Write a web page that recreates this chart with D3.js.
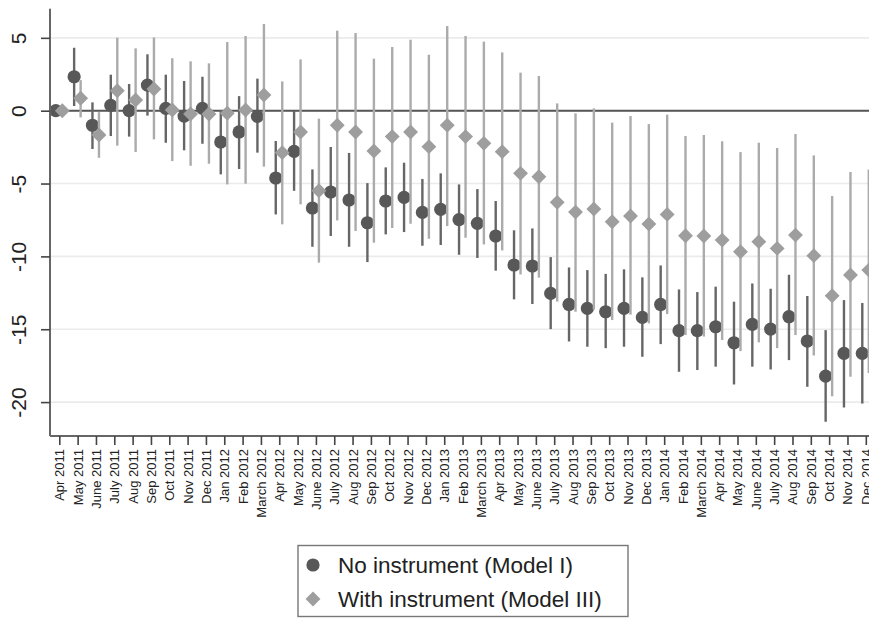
<!DOCTYPE html>
<html>
<head>
<meta charset="utf-8">
<script src="https://cdn.jsdelivr.net/npm/d3@7/dist/d3.min.js"></script>
<style>
  html, body { margin: 0; padding: 0; background: #fff; }
  svg { display: block; font-family: "Liberation Sans", Arial, sans-serif; }
</style>
</head>
<body>
<svg id="chart" width="869" height="621"></svg>
<script>
// Monthly event-study coefficients with 95% confidence intervals
const months = ["Apr 2011","May 2011","June 2011","July 2011","Aug 2011","Sep 2011","Oct 2011","Nov 2011","Dec 2011",
  "Jan 2012","Feb 2012","March 2012","Apr 2012","May 2012","June 2012","July 2012","Aug 2012","Sep 2012","Oct 2012","Nov 2012","Dec 2012",
  "Jan 2013","Feb 2013","March 2013","Apr 2013","May 2013","June 2013","July 2013","Aug 2013","Sep 2013","Oct 2013","Nov 2013","Dec 2013",
  "Jan 2014","Feb 2014","March 2014","Apr 2014","May 2014","June 2014","July 2014","Aug 2014","Sep 2014","Oct 2014","Nov 2014","Dec 2014"];

// No instrument (Model I)
const coefModel1 = [0, 2.33, -1.0, 0.37, 0.0, 1.76, 0.16, -0.37, 0.16, -2.15, -1.46, -0.39, -4.62, -2.79, -6.68,
  -5.58, -6.13, -7.69, -6.2, -5.95, -6.98, -6.77, -7.48, -7.73, -8.6, -10.59, -10.66, -12.54, -13.3, -13.57,
  -13.8, -13.57, -14.19, -13.3, -15.1, -15.1, -14.83, -15.93, -14.67, -14.99, -14.14, -15.81, -18.22, -16.66, -16.66];
const lowModel1 = [null, 0.32, -2.63, -1.74, -1.78, -0.34, -2.2, -2.72, -2.27, -4.37, -4.0, -2.88, -7.12, -5.5, -9.34,
  -8.6, -9.34, -10.39, -8.49, -8.33, -9.27, -9.22, -9.89, -10.11, -10.98, -12.95, -13.27, -14.99, -15.84, -16.2,
  -16.3, -16.2, -16.89, -16.02, -17.92, -17.8, -17.57, -18.79, -17.57, -17.76, -17.12, -18.95, -21.35, -20.37, -20.1];
const highModel1 = [null, 4.32, 0.57, 2.47, 1.83, 3.87, 2.47, 2.04, 2.33, 0.05, 1.0, 2.2, -2.08, 0.0, -4.03,
  -2.49, -2.9, -4.97, -3.89, -3.57, -4.69, -4.3, -5.06, -5.38, -6.2, -8.21, -8.08, -10.05, -10.76, -10.94,
  -11.2, -10.89, -11.44, -10.62, -12.27, -12.45, -12.08, -13.11, -11.86, -12.22, -11.26, -12.72, -15.06, -13.0, -13.2];

// With instrument (Model III)
const coefModel3 = [0, 0.85, -1.67, 1.37, 0.73, 1.49, 0.05, -0.23, -0.23, -0.18, 0.05, 1.08, -2.88, -1.46, -5.49,
  -1.0, -1.46, -2.77, -1.78, -1.46, -2.47, -1.0, -1.78, -2.24, -2.81, -4.3, -4.53, -6.29, -6.96, -6.75,
  -7.62, -7.23, -7.78, -7.12, -8.58, -8.6, -8.88, -9.68, -8.99, -9.45, -8.54, -9.95, -12.7, -11.28, -10.94];
const lowModel3 = [null, -0.46, -3.23, -2.4, -2.84, -1.97, -3.46, -3.78, -3.64, -5.06, -5.01, -3.84, -7.8, -6.43, -10.43,
  -7.53, -8.26, -9.06, -8.05, -7.76, -8.79, -7.92, -8.72, -9.18, -9.59, -11.24, -11.46, -13.1, -13.8, -13.65,
  -14.37, -14.0, -14.6, -13.96, -15.4, -15.5, -15.74, -16.5, -15.9, -16.3, -15.4, -16.8, -19.6, -18.26, -18.0];
const highModel3 = [null, 2.1, -0.1, 5.01, 4.28, 5.03, 3.6, 3.39, 3.25, 4.71, 5.13, 5.95, 2.01, 3.52, -0.55,
  5.49, 5.33, 3.57, 4.37, 4.87, 3.84, 5.81, 5.13, 4.74, 4.0, 2.61, 2.38, 0.5, -0.18, 0.16,
  -0.82, -0.37, -0.92, -0.27, -1.74, -1.67, -2.1, -2.84, -2.2, -2.56, -1.6, -3.07, -5.86, -4.21, -4.03];

const yTicks = [5, 0, -5, -10, -15, -20];
const legendLabels = ["No instrument (Model I)", "With instrument (Model III)"];

const svg = d3.select("#chart");
const W = 869, H = 621;
const axisX = 50, axisY = 436;

const x = d3.scalePoint().domain(months).range([59.3, 865.8]);
const y = d3.scaleLinear().domain([-22.3, 7]).range([435.6, 8.7]);

const darkFill = "#585858", darkBar = "#666666";
const lightFill = "#9e9e9e", lightBar = "#ababab";
const offsetM1 = -3.5, offsetM3 = 3;

// horizontal grid lines
svg.append("g").selectAll("line").data(yTicks).join("line")
  .attr("x1", axisX).attr("x2", W)
  .attr("y1", d => y(d)).attr("y2", d => y(d))
  .attr("stroke", "#ebebeb").attr("stroke-width", 1.6);

// reference line at zero
svg.append("line")
  .attr("x1", axisX).attr("x2", W).attr("y1", y(0)).attr("y2", y(0))
  .attr("stroke", "#555").attr("stroke-width", 2);

const plot = svg.append("g");

function series(coef, lo, hi, offset, barColor) {
  return months.map((m, i) => ({ m, v: coef[i], lo: lo[i], hi: hi[i], dx: offset, c: barColor }));
}
const s1 = series(coefModel1, lowModel1, highModel1, offsetM1, darkBar);
const s3 = series(coefModel3, lowModel3, highModel3, offsetM3, lightBar);

function drawBars(data, width) {
  plot.append("g").selectAll("line").data(data.filter(d => d.lo !== null)).join("line")
    .attr("x1", d => x(d.m) + d.dx).attr("x2", d => x(d.m) + d.dx)
    .attr("y1", d => y(d.lo)).attr("y2", d => y(d.hi))
    .attr("stroke", d => d.c).attr("stroke-width", width);
}

// Model I: intervals and circles
drawBars(s1, 2.4);
plot.append("g").selectAll("circle").data(s1).join("circle")
  .attr("cx", d => x(d.m) + d.dx).attr("cy", d => y(d.v)).attr("r", 6.6)
  .attr("fill", darkFill);

// Model III: intervals and diamonds
drawBars(s3, 2.4);
const diamond = d3.symbol().type(d3.symbolDiamond2).size(2 * 8.4 * 8.4);
plot.append("g").selectAll("path").data(s3).join("path")
  .attr("transform", d => `translate(${x(d.m) + d.dx},${y(d.v)})`)
  .attr("d", diamond)
  .attr("fill", lightFill);

// y axis
const yAxis = svg.append("g").attr("transform", `translate(${axisX},0)`)
  .call(d3.axisLeft(y).tickValues(yTicks).tickSize(9).tickFormat(d3.format("d")));
yAxis.select(".domain").attr("d", `M0,${y(7)}V${axisY}`).attr("stroke", "#666").attr("stroke-width", 2);
yAxis.selectAll(".tick line").attr("stroke", "#444").attr("stroke-width", 1.6);
yAxis.selectAll(".tick text")
  .attr("x", null).attr("dy", null)
  .attr("transform", "translate(-24,0) rotate(-90)")
  .attr("text-anchor", "middle")
  .attr("font-size", 21)
  .attr("fill", "#222")
  .attr("font-family", "Liberation Sans, Arial, sans-serif")
  .text(d => d < 0 ? "-" + Math.abs(d) : d);

// x axis
const xAxis = svg.append("g").attr("transform", `translate(0,${axisY})`)
  .call(d3.axisBottom(x).tickSize(9).tickSizeOuter(0));
xAxis.select(".domain").attr("d", `M${axisX},0H${W}`).attr("stroke", "#666").attr("stroke-width", 2);
xAxis.selectAll(".tick line").attr("stroke", "#444").attr("stroke-width", 1.6);
xAxis.selectAll(".tick text")
  .attr("y", null).attr("dy", null)
  .attr("transform", "translate(0,13) rotate(-90)")
  .attr("text-anchor", "end")
  .attr("dominant-baseline", "central")
  .attr("font-size", 13)
  .attr("fill", "#222")
  .attr("font-family", "Liberation Sans, Arial, sans-serif");

// legend
const lg = svg.append("g");
lg.append("rect").attr("x", 298).attr("y", 545.5).attr("width", 330).attr("height", 71)
  .attr("fill", "#fff").attr("stroke", "#777").attr("stroke-width", 1.4);
const rows = [565, 599];
lg.append("circle").attr("cx", 313).attr("cy", rows[0]).attr("r", 6.6).attr("fill", darkFill);
lg.append("path").attr("transform", `translate(313,${rows[1]})`).attr("d", diamond).attr("fill", lightFill);
lg.selectAll("text").data(legendLabels).join("text")
  .attr("x", 338).attr("y", (d, i) => rows[i])
  .attr("dominant-baseline", "central")
  .attr("font-size", 22.5)
  .attr("fill", "#222")
  .text(d => d);
</script>
</body>
</html>
